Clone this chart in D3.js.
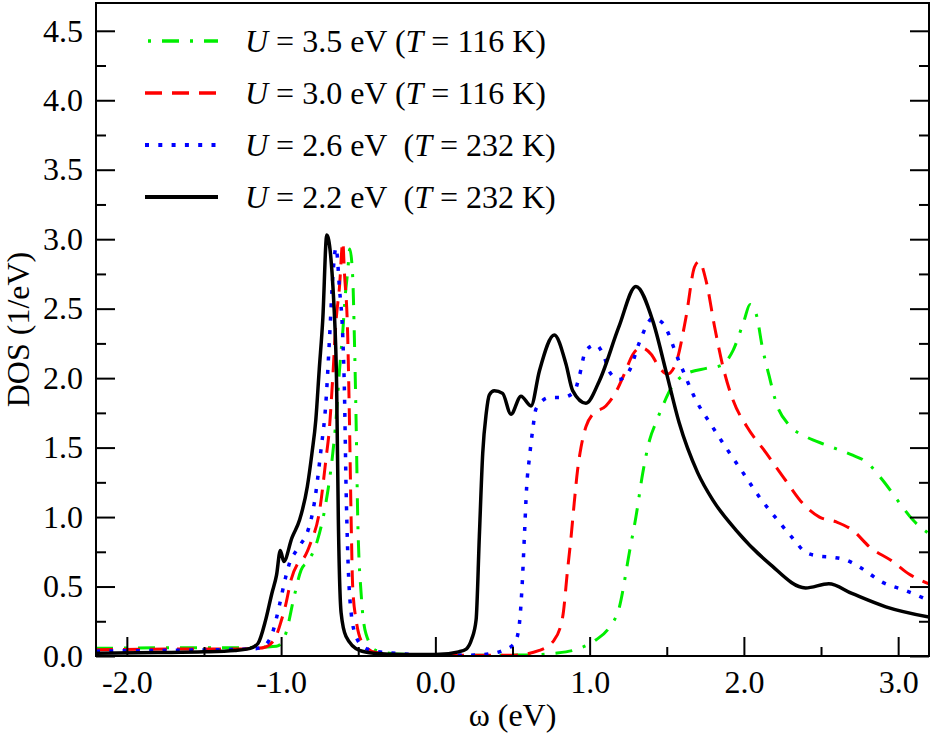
<!DOCTYPE html>
<html>
<head>
<meta charset="utf-8">
<script src="https://cdn.jsdelivr.net/npm/d3@7"></script>
<style>
  .lbl { font: 32px "Liberation Serif" !important; }
  .lbl .it { font-style: italic !important; }
</style>
</head>
<body style="margin:0">
<svg id="chart" width="934" height="736"></svg>
<script>
// DOS curves, [omega (eV), DOS (1/eV)]
const dosU35 = [[-2.2,0.055],[-1.6,0.06],[-1.3,0.06],[-1.1,0.065],[-1.03,0.07],[-1.0,0.09],[-0.97,0.16],
  [-0.915,0.43],[-0.87,0.62],[-0.82,0.69],[-0.765,0.83],[-0.71,1.10],[-0.665,1.46],[-0.644,1.70],[-0.622,2.05],
  [-0.60,2.34],[-0.583,2.61],[-0.568,2.77],[-0.555,2.93],[-0.536,2.73],[-0.525,2.29],[-0.514,1.70],[-0.503,0.98],
  [-0.48,0.43],[-0.45,0.16],[-0.385,0.04],[-0.2,0.012],[0.3,0.005],[0.6,0.008],[0.78,0.02],[0.935,0.055],
  [1.04,0.115],[1.13,0.21],[1.19,0.34],[1.26,0.76],[1.30,1.00],[1.345,1.32],[1.39,1.56],[1.43,1.68],[1.47,1.79],
  [1.535,1.94],[1.625,2.03],[1.755,2.07],[1.85,2.09],[1.93,2.20],[2.00,2.41],[2.04,2.53],[2.08,2.46],[2.12,2.22],
  [2.165,2.01],[2.21,1.82],[2.295,1.66],[2.40,1.58],[2.53,1.52],[2.705,1.445],[2.79,1.40],[2.90,1.265],
  [3.01,1.10],[3.095,0.98],[3.2,0.88]];

const dosU30 = [[-2.2,0.045],[-1.6,0.05],[-1.3,0.05],[-1.15,0.055],[-1.10,0.065],[-1.075,0.08],[-1.03,0.15],
  [-1.0,0.25],[-0.97,0.37],[-0.935,0.55],[-0.89,0.67],[-0.85,0.71],[-0.81,0.81],[-0.75,1.05],[-0.71,1.41],
  [-0.686,1.65],[-0.665,2.01],[-0.644,2.41],[-0.622,2.65],[-0.60,2.98],[-0.59,2.77],[-0.568,2.29],[-0.557,1.70],
  [-0.546,0.98],[-0.536,0.50],[-0.514,0.26],[-0.47,0.09],[-0.385,0.025],[-0.2,0.01],[0.2,0.005],[0.5,0.005],
  [0.674,0.04],[0.77,0.115],[0.825,0.28],[0.857,0.62],[0.88,0.86],[0.90,1.10],[0.922,1.34],[0.944,1.50],
  [0.976,1.65],[1.02,1.74],[1.105,1.80],[1.17,1.90],[1.225,2.03],[1.28,2.17],[1.33,2.22],[1.40,2.17],[1.45,2.08],
  [1.505,2.03],[1.56,2.11],[1.625,2.44],[1.68,2.80],[1.71,2.84],[1.755,2.70],[1.81,2.37],[1.865,2.08],[1.93,1.84],
  [2.02,1.65],[2.145,1.46],[2.27,1.265],[2.38,1.10],[2.49,1.00],[2.60,0.965],[2.705,0.905],[2.815,0.785],
  [2.965,0.68],[3.07,0.59],[3.2,0.52]];

const dosU26 = [[-2.2,0.035],[-1.8,0.04],[-1.4,0.045],[-1.2,0.05],[-1.13,0.06],[-1.10,0.08],[-1.055,0.17],
  [-1.01,0.37],[-0.97,0.57],[-0.945,0.67],[-0.90,0.76],[-0.87,0.81],[-0.83,0.89],[-0.785,1.10],[-0.742,1.48],
  [-0.71,1.82],[-0.686,2.29],[-0.665,2.73],[-0.644,2.94],[-0.622,2.65],[-0.60,2.29],[-0.59,1.93],[-0.579,1.22],
  [-0.568,0.74],[-0.546,0.31],[-0.514,0.14],[-0.47,0.07],[-0.4,0.035],[-0.2,0.015],[0.0,0.005],[0.2,0.005],
  [0.35,0.015],[0.437,0.04],[0.512,0.09],[0.54,0.19],[0.562,0.50],[0.577,0.86],[0.592,1.22],[0.61,1.43],
  [0.63,1.62],[0.653,1.78],[0.74,1.86],[0.82,1.86],[0.90,1.90],[0.93,2.00],[0.976,2.20],[1.04,2.24],[1.095,2.15],
  [1.127,2.05],[1.19,1.99],[1.26,2.06],[1.32,2.25],[1.41,2.43],[1.47,2.40],[1.58,2.12],[1.69,1.84],[1.79,1.66],
  [1.89,1.49],[2.00,1.31],[2.10,1.145],[2.21,0.99],[2.33,0.83],[2.395,0.75],[2.48,0.72],[2.58,0.71],[2.665,0.69],
  [2.75,0.64],[2.90,0.53],[3.05,0.47],[3.2,0.40]];

const dosU22 = [[-2.2,0.02],[-1.8,0.025],[-1.5,0.03],[-1.3,0.04],[-1.2,0.055],[-1.15,0.09],[-1.10,0.26],
  [-1.06,0.45],[-1.03,0.58],[-1.005,0.76],[-0.983,0.68],[-0.93,0.85],[-0.88,0.98],[-0.83,1.22],[-0.80,1.46],
  [-0.775,1.70],[-0.753,2.06],[-0.73,2.42],[-0.704,3.03],[-0.655,2.47],[-0.64,1.94],[-0.629,0.98],[-0.611,0.31],
  [-0.579,0.14],[-0.492,0.04],[-0.4,0.02],[-0.2,0.01],[0.0,0.01],[0.15,0.03],[0.2,0.05],[0.235,0.12],[0.264,0.26],
  [0.285,0.86],[0.307,1.46],[0.33,1.75],[0.35,1.88],[0.382,1.91],[0.436,1.89],[0.49,1.74],[0.555,1.87],
  [0.62,1.80],[0.674,2.05],[0.771,2.31],[0.847,2.10],[0.89,1.91],[0.976,1.82],[1.063,1.98],[1.19,2.37],
  [1.30,2.66],[1.41,2.41],[1.495,2.05],[1.58,1.68],[1.70,1.32],[1.80,1.12],[1.95,0.905],[2.165,0.665],
  [2.40,0.49],[2.55,0.52],[2.70,0.45],[2.92,0.354],[3.2,0.28]];

const xMajorTicks = [-2, -1, 0, 1, 2, 3];
const xMinorTicks = [-1.5, -0.5, 0.5, 1.5, 2.5];
const yMajorTicks = [0, 0.5, 1, 1.5, 2, 2.5, 3, 3.5, 4, 4.5];
const yMinorTicks = [0.25, 0.75, 1.25, 1.75, 2.25, 2.75, 3.25, 3.75, 4.25];

const series = [
  { data: dosU35, color: "#00ee00", dash: "17,11,3,11", width: 3, U: "3.5", T: "116", gap: " " },
  { data: dosU30, color: "#ff0000", dash: "17,10", width: 3, U: "3.0", T: "116", gap: " " },
  { data: dosU26, color: "#0000ff", dash: "4,9.3", width: 3.5, U: "2.6", T: "232", gap: "\u00a0 " },
  { data: dosU22, color: "#000000", dash: null, width: 3.5, U: "2.2", T: "232", gap: "\u00a0 " }
];

const plotLeft = 96, plotRight = 929, plotTop = 3, plotBottom = 656;
const svg = d3.select("#chart");

const x = d3.scaleLinear().domain([-2.2, 3.2]).range([plotLeft, plotRight]);
const y = d3.scaleLinear().domain([0, 4.7]).range([plotBottom, plotTop]);

svg.append("clipPath").attr("id", "plotclip")
  .append("rect")
  .attr("x", plotLeft).attr("y", plotTop)
  .attr("width", plotRight - plotLeft).attr("height", plotBottom - plotTop);

const line = d3.line()
  .x(d => x(d[0]))
  .y(d => y(d[1]))
  .curve(d3.curveMonotoneX);

const curves = svg.append("g").attr("clip-path", "url(#plotclip)");
series.forEach(s => {
  curves.append("path")
    .datum(s.data)
    .attr("fill", "none")
    .attr("stroke", s.color)
    .attr("stroke-width", s.width)
    .attr("stroke-dasharray", s.dash)
    .attr("stroke-linejoin", "round")
    .attr("d", line);
});

/**
 * axes: ticks point inward, no top ticks
 */
const fmt = d => d.toFixed(1);

function styleAxis(g) {
  g.attr("font-family", null).attr("font-size", null);
  g.select(".domain").remove();
  g.selectAll(".tick line").attr("stroke", "#000").attr("stroke-width", 2);
  g.selectAll(".tick text").attr("fill", "#000").attr("class", "lbl");
}

svg.append("g")
  .attr("transform", `translate(0,${plotBottom})`)
  .call(d3.axisBottom(x).tickValues(xMajorTicks).tickSize(-19).tickPadding(14).tickFormat(fmt))
  .call(styleAxis);
svg.append("g")
  .attr("transform", `translate(0,${plotBottom})`)
  .call(d3.axisBottom(x).tickValues(xMinorTicks).tickSize(-9).tickFormat(""))
  .call(styleAxis);

svg.append("g")
  .attr("transform", `translate(${plotLeft},0)`)
  .call(d3.axisLeft(y).tickValues(yMajorTicks).tickSize(-19).tickPadding(13).tickFormat(fmt))
  .call(styleAxis);
svg.append("g")
  .attr("transform", `translate(${plotLeft},0)`)
  .call(d3.axisLeft(y).tickValues(yMinorTicks).tickSize(-10).tickFormat(""))
  .call(styleAxis);

svg.append("g")
  .attr("transform", `translate(${plotRight},0)`)
  .call(d3.axisRight(y).tickValues(yMajorTicks).tickSize(-19).tickFormat(""))
  .call(styleAxis);
svg.append("g")
  .attr("transform", `translate(${plotRight},0)`)
  .call(d3.axisRight(y).tickValues(yMinorTicks).tickSize(-10).tickFormat(""))
  .call(styleAxis);

svg.append("rect")
  .attr("x", plotLeft).attr("y", plotTop)
  .attr("width", plotRight - plotLeft).attr("height", plotBottom - plotTop)
  .attr("fill", "none").attr("stroke", "#000").attr("stroke-width", 2);

// axis titles
svg.append("text")
  .attr("class", "lbl")
  .attr("x", (plotLeft + plotRight) / 2).attr("y", 726)
  .attr("text-anchor", "middle")
  .text("ω (eV)");

svg.append("text")
  .attr("class", "lbl")
  .attr("transform", `translate(29,${(plotTop + plotBottom) / 2}) rotate(-90)`)
  .attr("text-anchor", "middle")
  .text("DOS (1/eV)");

/**
 * legend
 */
const legendRows = [41, 93, 145, 197];
const legend = svg.append("g");
series.forEach((s, i) => {
  const ly = legendRows[i];
  legend.append("line")
    .attr("x1", 145).attr("x2", 218)
    .attr("y1", ly).attr("y2", ly)
    .attr("stroke", s.color)
    .attr("stroke-width", s.width + 0.5)
    .attr("stroke-dasharray", s.dash)
    .attr("stroke-dashoffset", s.dash && s.dash.startsWith("17,11") ? 25 : 0);

  const t = legend.append("text")
    .attr("class", "lbl")
    .attr("x", 245).attr("y", ly + 11)
    .style("white-space", "pre");
  t.append("tspan").attr("class", "it").text("U");
  t.append("tspan").text(` = ${s.U} eV${s.gap}(`);
  t.append("tspan").attr("class", "it").text("T");
  t.append("tspan").text(` = ${s.T} K)`);
});
</script>
</body>
</html>
